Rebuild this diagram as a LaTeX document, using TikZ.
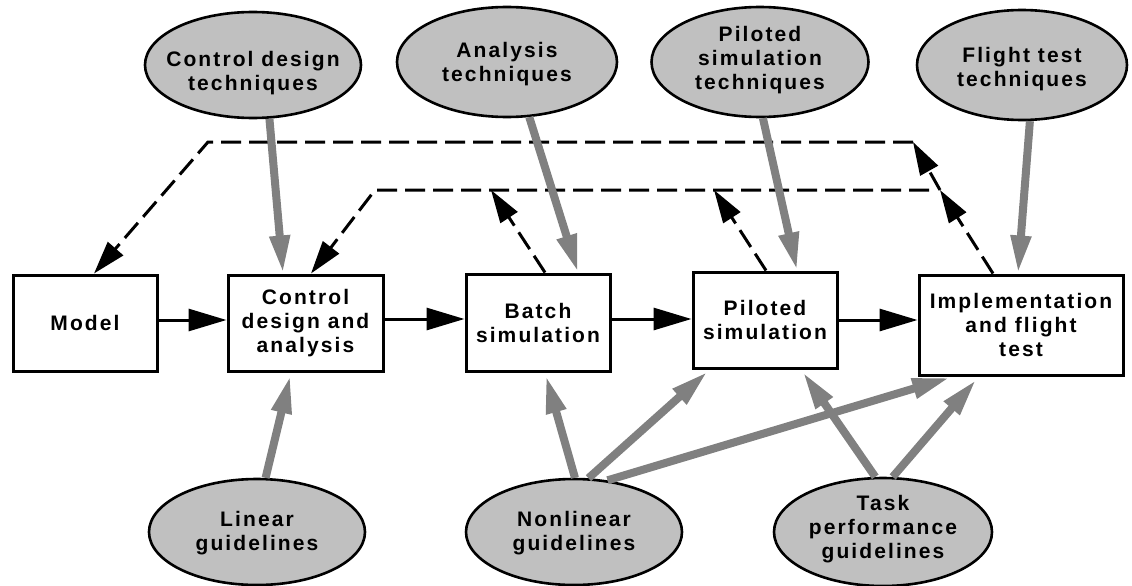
\documentclass[tikz,border=0pt]{standalone}
\usepackage{fontspec}
\newfontfamily\lab[LetterSpace=10]{Liberation Sans}
\usetikzlibrary{arrows.meta,shapes.geometric}
\definecolor{arrgray}{RGB}{128,128,128}
\definecolor{ellfill}{RGB}{192,192,192}
\tikzset{
 txt/.style={font=\lab\bfseries\fontsize{21}{24}\selectfont, align=center, inner sep=0pt},
 stepbox/.style={txt, draw=black, line width=3pt, fill=white, rectangle},
 oval/.style={ellipse, draw=black, line width=2.6pt, fill=ellfill, inner sep=0pt},
 flow/.style={line width=3pt, -{Triangle[length=38pt,width=22pt]}},
 feed/.style={line width=3pt, dash pattern=on 20pt off 8pt, -{Triangle[length=33pt,width=20pt]}},
 infl/.style={line width=8pt, draw=arrgray, -{Triangle[length=38pt,width=19pt]}},
}
\begin{document}
\begin{tikzpicture}[x=1pt,y=-1pt]
\useasboundingbox (0,0) rectangle (1132,586);
% ellipses
\node[oval, minimum width=216pt, minimum height=106pt] (cdt) at (253,65) {};
\node[txt] (cdtT) at (253,73) {Control design\\techniques};
\node[oval, minimum width=220pt, minimum height=110pt] (at) at (507,62) {};
\node[txt] (atT) at (507,64) {Analysis\\techniques};
\node[oval, minimum width=217pt, minimum height=110pt] (pst) at (760,62) {};
\node[txt] (pstT) at (760,60) {Piloted\\simulation\\techniques};
\node[oval, minimum width=210pt, minimum height=110pt] (ftt) at (1022,65) {};
\node[txt] (fttT) at (1022,69) {Flight test\\techniques};
\node[oval, minimum width=216pt, minimum height=106pt] (lg) at (257,532) {};
\node[txt] (lgT) at (257,533) {Linear\\guidelines};
\node[oval, minimum width=216pt, minimum height=106pt] (nlg) at (574,532) {};
\node[txt] (nlgT) at (574,533) {Nonlinear\\guidelines};
\node[oval, minimum width=218pt, minimum height=108pt] (tpg) at (883,532) {};
\node[txt] (tpgT) at (883,529) {Task\\performance\\guidelines};
% boxes
\node[stepbox, minimum width=144pt, minimum height=96pt] (model) at (85,323) {Model};
\node[stepbox, minimum width=155pt, minimum height=96pt] (ctrl) at (305.5,323) {Control\\design and\\analysis};
\node[stepbox, minimum width=144pt, minimum height=97pt] (batch) at (538,322.5) {Batch\\simulation};
\node[stepbox, minimum width=144pt, minimum height=96pt] (pilot) at (765,320) {Piloted\\simulation};
\node[stepbox, minimum width=204pt, minimum height=100pt] (impl) at (1021,325) {Implementation\\and flight\\test};
% feedback coordinates
\coordinate (oR) at (913,142);
\coordinate (oL) at (208,142);
\coordinate (iR) at (929,190);
\coordinate (iL) at (375,190);
\coordinate (iM) at (940,190);
\coordinate (bT) at (491,190);
\coordinate (pT) at (714,190);
% feedback (dashed)
\draw[feed] (oR) -- (oL) -- (model.north -| 94,0);
\draw[feed] (iR) -- (iL) -- (ctrl.north -| 311,0);
\draw[feed] (batch.north -| 545,0) -- (bT);
\draw[feed] (pilot.north -| 766,0) -- (pT);
\draw[feed] (impl.north -| 993,0) -- (iM);
\draw[feed] (iM) -- (oR);
% main flow
\draw[flow] (model.east |- 0,320) -- (ctrl.west |- 0,320);
\draw[flow] (ctrl.east |- 0,319) -- (batch.west |- 0,319);
\draw[flow] (batch.east |- 0,319) -- (pilot.west |- 0,319);
\draw[flow] (pilot.east |- 0,320) -- (impl.west |- 0,320);
% influences (gray)
\draw[infl] (cdt.-73) -- (ctrl.north -| 283,0);
\draw[infl] (at.-68) -- (batch.north -| 578,0);
\draw[infl] (pst.-87) -- (pilot.north -| 797,0);
\draw[infl] (ftt.-82) -- (impl.north -| 1018,0);
\draw[infl, shorten >=3pt] (lg.81) -- (ctrl.south -| 291,0);
\draw[infl, shorten >=3pt] (nlg.89) -- (batch.south -| 545,0);
\draw[infl, shorten >=3pt] (nlg.75) -- (pilot.south -| 710,0);
\draw[infl, shorten >=4pt] (nlg.57) -- (impl.south -| 954,0);
\draw[infl, shorten >=3pt] (tpg.98) -- (pilot.south -| 801,0);
\draw[infl, shorten >=4pt] (tpg.80) -- (impl.south -| 979,0);
\end{tikzpicture}
\end{document}
